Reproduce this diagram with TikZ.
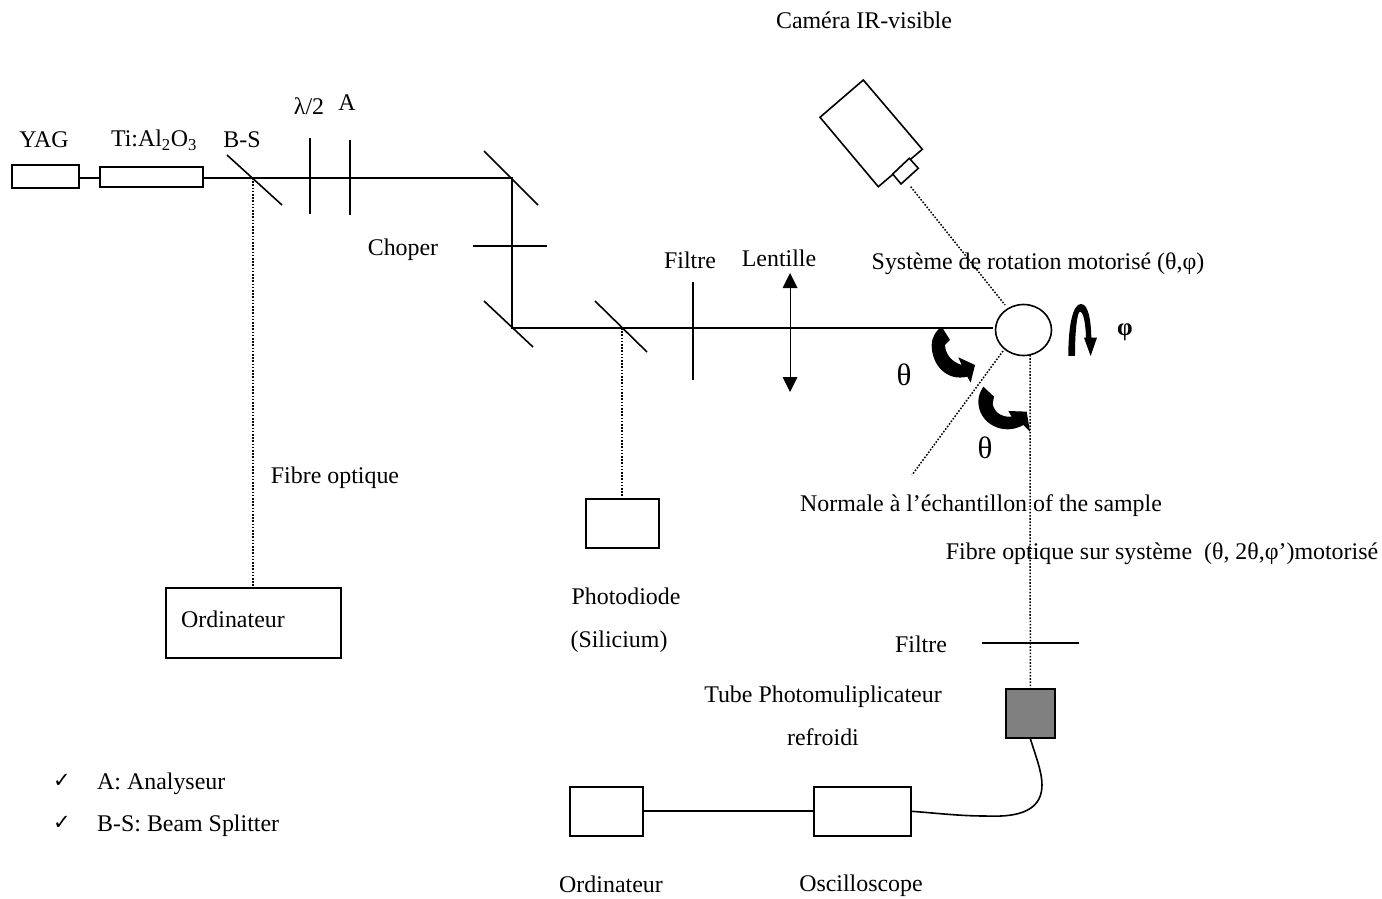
\documentclass[tikz,border=0pt]{standalone}
\usepackage{fontspec}
\setmainfont{Liberation Serif}
\newfontfamily\dejavu{DejaVu Sans}
\usetikzlibrary{arrows.meta,shapes.geometric}
\tikzset{
  box/.style={draw=black,line width=1.6pt,fill=white,inner sep=0pt,anchor=north west},
  optic/.style={line width=1.6pt},
  beam/.style={line width=1.6pt},
  fibre/.style={line width=1.5pt,dash pattern=on 1.6pt off 1.6pt},
  lab/.style={inner sep=0pt,font=\fontsize{23.9}{26}\selectfont},
  greek/.style={inner sep=0pt,font=\fontsize{31}{33}\selectfont},
  turn/.style={fill=black,draw=none},
}
\newcommand{\mkbox}[5]{\node[box,minimum width=#4pt-#2pt+1pt,minimum height=#5pt-#3pt+1pt] (#1) at (#2-1,#3-1) {};}
\begin{document}
\begin{tikzpicture}[x=1pt,y=-1pt]
\useasboundingbox (0,0) rectangle (1382,899);
% boxes
\mkbox{yag}{12}{165}{78}{187}
\mkbox{ti}{100}{167}{202}{186}
\mkbox{ordA}{166}{588}{340}{657}
\mkbox{diode}{586}{499}{658}{547}
\mkbox{ordB}{570}{787}{642}{835}
\mkbox{osc}{814}{787}{910}{835}
\node[box,fill=black!50,minimum width=49pt,minimum height=49pt] (pm) at (1005,688) {};
\node[draw=black,line width=1.6pt,fill=white,ellipse,minimum width=56pt,minimum height=51pt,inner sep=0pt] (sample) at (1023.5,330) {};
% camera
\draw[line width=1.6pt,line join=miter] (863.3,80) -- (820,117.3) -- (878.3,186.7) -- (922.3,149.3) -- cycle;
\draw[line width=1.6pt,fill=white] (892.7,174) -- (901,184) -- (918.3,168.3) -- (909.3,158.3) -- cycle;
\coordinate (camout) at (910.7,186.7);
% beam points
\coordinate (bs) at (253,178);
\coordinate (m1) at (512,178);
\coordinate (m2) at (512,328);
\coordinate (bs2) at (622,328);
\coordinate (beamend) at (993,328);
\coordinate (yagout) at (78,178);
\coordinate (tiin) at (100,178);
\coordinate (tiout) at (202,178);
% beam
\draw[beam] (yagout) -- (tiin);
\draw[beam] (tiout) -- (m1) -- (m2) -- (beamend);
% optics
\draw[optic] (227,155) -- (282,205);
\draw[optic] (310,138) -- (310,214);
\draw[optic] (350,140) -- (350,215);
\draw[optic] (484,151) -- (538,205);
\draw[optic] (473,246) -- (547,246);
\draw[optic] (484,301) -- (533,347);
\draw[optic] (595,301) -- (647,352);
\draw[optic] (693,282) -- (693,380);
\draw[optic] (982,643) -- (1079,643);
% lens
\draw[line width=0.8pt] (790,285) -- (790,380);
\fill (790,273) -- (797.5,288) -- (782.5,288) -- cycle;
\fill (790,392) -- (797.5,377) -- (782.5,377) -- cycle;
% fibres
\draw[fibre] (bs) -- (ordA.north -| bs);
\draw[fibre] (bs2) -- (bs2 |- diode.north);
\draw[fibre] (camout) -- (1005,305);
\draw[fibre] (1003,351) -- (912,475);
\draw[fibre] (1030,355) -- (pm.north);
% cables
\draw[line width=1.8pt] (ordB.east) -- (osc.west);
\draw[line width=1.6pt] (pm.south) .. controls (1036,757) and (1042,772) .. (1042,785) .. controls (1042,815) and (1010,817) .. (985,816) .. controls (960,816) and (935,813) .. (osc.east);
% rotation arrows
\begin{scope}[shift={(880,280)},x=0.3333pt,y=-0.3333pt]
\fill[turn] (185,140) -- (210,180) -- (195,195) .. controls (197,225) and (215,245) .. (245,255) -- (235,232) -- (285,255) -- (272,308) -- (262,290) .. controls (200,305) and (155,255) .. (155,195) .. controls (155,175) and (165,155) .. (185,140) -- cycle;
\fill[turn] (310,320) -- (342,350) -- (338,372) .. controls (345,405) and (375,412) .. (395,410) -- (385,393) -- (440,395) -- (450,455) -- (430,435) .. controls (370,470) and (295,430) .. (295,365) .. controls (295,350) and (300,335) .. (310,320) -- cycle;
\fill[turn] (565,228) .. controls (565,130) and (580,72) .. (603,72) .. controls (625,72) and (633,120) .. (634,173) -- (651,173) -- (632,228) -- (612,173) -- (618,173) .. controls (617,130) and (610,95) .. (600,95) .. controls (592,95) and (585,150) .. (585,228) -- cycle;
\end{scope}
% labels
\node[lab] (tyag) at (44,140) {YAG};
\node[lab] (tti) at (154,140) {Ti:Al\textsubscript{2}O\textsubscript{3}};
\node[lab] (tbs) at (242,140) {B-S};
\node[lab] (tlam) at (309,106) {λ/2};
\node[lab] (ta) at (347,103) {A};
\node[lab] (tcam) at (864,20) {Caméra IR-visible};
\node[lab] (tchop) at (403,250) {Choper};
\node[lab] (tfil) at (690,260) {Filtre};
\node[lab] (tlen) at (779,258) {Lentille};
\node[lab] (tsys) at (1038,264) {Système de rotation motorisé (θ,φ)};
\node[lab] (tfo) at (335,478) {Fibre optique};
\node[lab] (tnor) at (981,505.5) {Normale à l’échantillon of the sample};
\node[lab] (tfo2) at (1162,554) {Fibre optique sur système~ (θ, 2θ,φ’)motorisé};
\node[lab] (tord) at (233,619) {Ordinateur};
\node[lab] (tph) at (626,596) {Photodiode};
\node[lab] (tsi) at (619,641.5) {(Silicium)};
\node[lab] (tfl) at (921,644) {Filtre};
\node[lab] (ttu) at (823,697) {Tube Photomuliplicateur};
\node[lab] (tre) at (823,737) {refroidi};
\node[lab] (tob) at (611,884) {Ordinateur};
\node[lab] (tos) at (861,886) {Oscilloscope};
\node[lab,anchor=west] (ta2) at (97,783.5) {A: Analyseur};
\node[lab,anchor=west] (tb2) at (97,825.5) {B-S: Beam Splitter};
\node[lab,font=\dejavu\fontsize{21}{24}\selectfont] (c1) at (62,781) {✓};
\node[lab,font=\dejavu\fontsize{21}{24}\selectfont] (c2) at (62,823) {✓};
\node[greek] (th1) at (904,375) {θ};
\node[greek] (th2) at (985,448) {θ};
\node[greek,font=\bfseries\fontsize{25}{28}\selectfont] (ph) at (1125,332) {φ};
\end{tikzpicture}
\end{document}
